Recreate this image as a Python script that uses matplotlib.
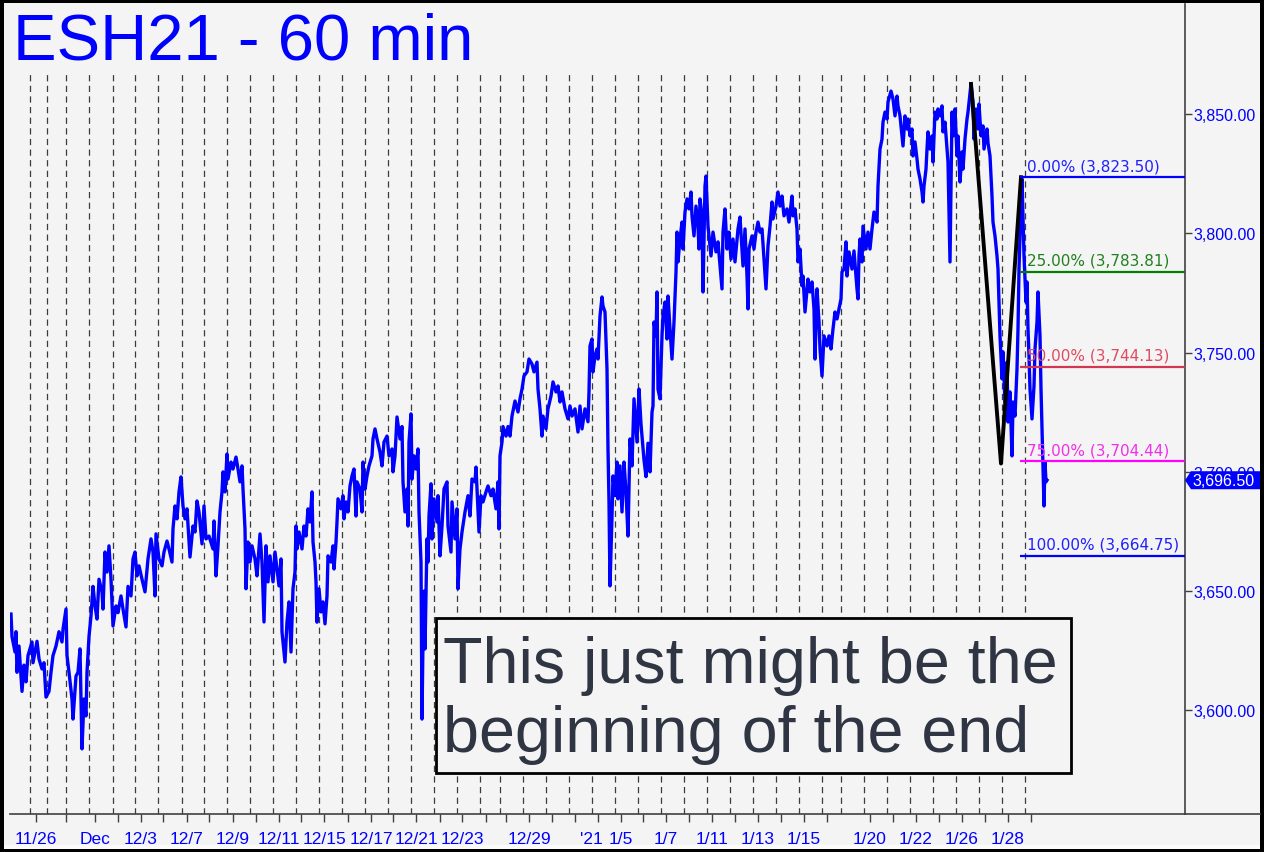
import matplotlib
matplotlib.use('Agg')
import matplotlib.pyplot as plt
from matplotlib.patches import Rectangle, Polygon
from matplotlib.lines import Line2D
from matplotlib.transforms import IdentityTransform, ScaledTranslation

plt.rcParams['font.family'] = ['Liberation Sans', 'DejaVu Sans']

# hourly closes (x = bar position)
xA = [11,12,15,16,17,19,22,24,26,28, 32,33,37,39,42,44,46,49,51,53, 56,59,62,63,66,67,69,72,73,76,
      78,80,82,84,86,87,89,91,93,95, 97,99,102,103,105,107,109,111,113,116, 118,121,123,126,128,131,133,135,137,139,
      142,145,148,151,153,155,156,159,162,164, 167,169,172,173,175,177,179,181,183,185, 187,190,193,195,197,199,202,204,206,209]
pA = [3640.4,3631,3624.5,3633,3616,3627,3608,3619,3612,3623, 3628.7,3620,3629,3621.6,3617.4,3620,3605.6,3608,3616,3623,
      3627,3633,3628.7,3634,3642.5,3623,3616,3604.8,3596.4,3614.4, 3616,3625.8,3583.9,3604.8,3597.7,3616,3631,3639.6,3652,3643.8,
      3638.3,3655,3649.7,3642.5,3666.4,3658,3669,3655,3635.4,3643.8, 3641,3648,3642.5,3635,3652,3648,3663.5,3666.4,3656.4,3660.6,
      3655,3649.7,3663.5,3671.9,3666.4,3648,3674,3663.5,3660.6,3666.4, 3671,3667.7,3662.2,3676.1,3685.7,3680.3,3691.6,3697.9,3685.7,3680.3,
      3684.5,3664.3,3677.3,3674.8,3687.8,3683.2,3669.8,3685.7,3671.9,3673.1]

xB = [213,214,216,218,220,222,223,225,227,228, 231,233,236,238,240,242,243,245,246,248, 250,252,255,257,260,262,264,266,268,270,
      273,275,277,279,281,282,285,287,289,291, 293,295,296,297,299,302,304,306,308,310, 312,313,315,316,317,319,321,323,325,327,
      328,331,333,334,336,337,338,341,343,344, 346,348,350,352,354,356,357,360,362,363, 365,367,369,372,373,375,377,380,382,384,
      387,389,392,393,395,397,400,402,403,405, 407,408,409,411,412,414,416,418,419,421, 422,423]
pB = [3667.7,3679.4,3656.4,3669,3683.2,3691.6,3700,3691.6,3707.5,3697, 3704.1,3701.2,3706.2,3701.2,3695.8,3702.5,3692.8,3676.1,3651,3670.6,
      3662.2,3669,3663.5,3656.4,3674,3662.2,3637.1,3669,3653.9,3664.8, 3653.9,3666.4,3659.3,3652.2,3663.5,3632.9,3620.3,3637.1,3645.5,3624.5,
      3651,3658,3677.3,3667.7,3674.8,3667.7,3677.3,3673.1,3684.5,3679, 3691.6,3670.6,3662.2,3653.9,3637,3651,3641.3,3645.5,3636.3,3648,
      3664.8,3662.2,3669,3659.3,3670.6,3679,3688.7,3684.5,3690,3680.3, 3687.4,3683.2,3694.1,3698.3,3701.2,3681.5,3695.8,3692.8,3683.2,3704.1,
      3692.8,3698.3,3702.5,3706.7,3713.8,3718,3713.8,3708.3,3702.5,3712.5, 3715,3706.7,3709.6,3700,3706.7,3723,3713.8,3719,3695.8,3683.2,
      3692.8,3677.3,3712.5,3724.3,3697,3706.7,3701.2,3709.6,3683.2,3662.2, 3596.4,3630]

xC = [424,425,427,428,429,431,432,434,437,438, 440,442,444,447,448,451,452,455,457,458, 460,462,465,468,470,472,475,476,478,479,
      481,483,486,488,491,493,496,498,499,500, 502,503,506,508,510,512,515,518,520,522, 524,527,529,532,534,537,538,540,542,543,
      546,548,551,553,556,558,560,562,565,568, 570,572,575,578,580,582,585,588,589,590, 592,593,595,597,598,600,602,603,605,607,
      608,609,610,612,613,615,617,618,620,622, 624,626,628,630,632,634,637,639,641,644, 646,648,650,652]
pC = [3650,3625.8,3671.9,3662.2,3681.5,3695,3671.9,3688.7,3679,3690, 3664.8,3677.3,3692.8,3695.8,3677.3,3666.4,3687.4,3671.9,3684.5,3651,
      3667.7,3674.8,3683.2,3690,3681.5,3697,3695.8,3702,3683.2,3674.8, 3690,3687.4,3691.6,3694.1,3690,3692.8,3684.5,3695.8,3676.1,3706.7,
      3712.5,3719,3715,3719,3715,3723.4,3729.7,3725.1,3730.6,3734.7, 3740.2,3741.9,3747.3,3745.2,3741.9,3746,3734.7,3726.4,3715,3723.4,
      3718,3726.4,3731.8,3737.7,3733.5,3736,3729.3,3733.5,3726.4,3722.2, 3727.6,3723.4,3726.4,3716.7,3727.6,3718,3726.4,3721,3733.5,3752.8,
      3755.7,3741.9,3748.6,3751.5,3747.3,3765.3,3773.3,3769.5,3767,3743.1, 3709.6,3687.4,3652.2,3681.5,3698.3,3690,3704.1,3688.7,3702.5,3683.2,
      3704.1,3691.6,3673.1,3713.8,3702.5,3730.6,3712.5,3734.7,3720,3705, 3698,3712,3700,3725]

xD = [653,654,656,657,658,660,662,663,665,667, 668,670,672,674,676,677,678,680,682,683, 685,687,689,691,692,694,696,698,699,700,
      702,703,705,706,708,709,711,713,716,718, 720,722,723,725,727,729,731,733,735,738, 740,742,743,745,747,748,749,752,754,756,
      758,760,762,764,766,768,770,772,773,776, 778,780,782,784,787,789,792,793,795,797, 798,800,802,803,805,808,810,812,814,815,
      817,819,820,822,824,827,829,831,833,835, 837,839,841,842,844]
pD = [3727.6,3762.8,3757,3775.4,3734.7,3730.6,3757,3765.3,3771.2,3755.7, 3773.7,3759.9,3747.3,3762.8,3783.8,3800.5,3788,3797.6,3804.7,3793.4,
      3808.9,3814.4,3810.2,3817.3,3807.3,3798.9,3811.4,3803,3793.4,3814.4, 3807.3,3775.4,3819.8,3824,3803,3798.9,3790.5,3800.5,3792.2,3796.4,
      3786.3,3776.7,3800.5,3810.2,3793.4,3800.5,3789.2,3797.6,3788,3801.8, 3806.8,3793.4,3786.3,3801.8,3782.1,3768.3,3793.4,3798.9,3793.4,3800.5,
      3804.7,3800.5,3801.8,3789.2,3776.7,3794.7,3803,3813.1,3806,3811.4, 3817.3,3811.4,3815.6,3807.3,3810.2,3804.7,3815.6,3807.3,3810.2,3801.8,
      3788,3793.4,3778,3782.1,3767,3780.8,3775.4,3779.6,3768.3,3747.3, 3776.7,3762.8,3751.5,3740.2,3757,3752.8,3757,3751.5,3759.9,3767,
      3764.1,3768.3,3772.5,3783.8,3785]

xE = [846,847,849,852,854,857,858,859,860,862, 863,866,868,870,872,874,877,878,880,882, 883,885,887,888,891,893,895,897,898,900,
      902,903,905,907,908,910,912,913,915,917, 918,920,922,923,924,926,927,928,930,932, 933,935,937,938,940,942,943,945,947,948,
      950,952,953,955,957,958,960,962,963,965, 967,968,971,973,974,976,978,979,981,983, 984,987,988,990,992,993,995,997,998,999,
      1000,1002,1003,1005,1007,1008,1010,1012,1013,1015, 1017,1018,1019,1021,1022,1023,1024,1026,1027,1028,
      1029,1030,1032,1034,1035,1037,1038,1040,1041,1042, 1044,1045,1046,1047]
pE = [3796.4,3782.1,3792.2,3785,3792.6,3776.7,3772.5,3790.5,3797.6,3788, 3803,3793.4,3800.5,3793.4,3801.8,3808.9,3804.7,3819.8,3835.3,3839.5,
      3846.6,3850.8,3847.9,3855,3859.6,3856.3,3849.2,3857.5,3853.4,3849.2, 3840.8,3836.6,3849.2,3843.7,3847.9,3840.8,3843.7,3832.4,3838.3,3831.1,
      3826.9,3822.8,3817.3,3813.1,3819.8,3826.9,3835.3,3842.5,3835.3,3840.8, 3829.9,3850.8,3847.9,3852.1,3849.2,3853.4,3842.5,3846.6,3835.3,3829.9,
      3788,3850.8,3840.8,3852.1,3832.4,3840.8,3821.5,3834.1,3826.9,3839.5, 3847.9,3850.8,3862.6,3855,3839.5,3852.1,3843.7,3854.2,3840.8,3845,
      3835.3,3843.7,3837.9,3832.4,3815.6,3804.7,3798.9,3790.5,3785,3771.2, 3757,3739,3750.3,3729.3,3746,3720.9,3733.5,3706.7,3729.3,3723.4,
      3743.1,3759.9,3785,3813.1,3822.8,3806,3790.5,3771.2,3779.6,3759.9, 3748.6,3734.7,3722.2,3736,3751.5,3762.8,3775.4,3757,3734.7,3718,
      3685.7,3704.1,3695.8,3696.5]

bars = xA + xB + xC + xD + xE
closes = pA + pB + pC + pD + pE

# session separators and date ticks
day_lines = [30,47,66,89,113,135,158,182,204,227,250,273,296,319,342,365,388,411,434,457,480,500,523,
             546,569,592,615,638,661,684,707,730,753,776,799,822,841,864,887,910,933,956,979,1002,1025]
tick_pos = [36,66,95,118,141,163,187,209,233,256,279,301,324,348,371,393,416,440,462,486,506,529,552,
            575,598,621,643,666,689,712,735,758,781,804,827,870,893,916,939,962,985,1008,1031]
tick_names = {36:'11/26', 95:'Dec', 141:'12/3', 187:'12/7', 233:'12/9', 279:'12/11', 324:'12/15',
              371:'12/17', 416:'12/21', 462:'12/23', 529:'12/29', 598:"'21", 621:'1/5', 666:'1/7',
              712:'1/11', 758:'1/13', 804:'1/15', 870:'1/20', 916:'1/22', 962:'1/26', 1008:'1/28'}

price_ticks = [3600, 3650, 3700, 3750, 3800, 3850]

# retracement levels
fib_pct = ['0.00%', '25.00%', '50.00%', '75.00%', '100.00%']
fib_val = [3823.50, 3783.81, 3744.13, 3704.44, 3664.75]
fib_line_col = ['#0000ff', '#008000', '#d23650', '#ff00ff', '#0000ff']
fib_text_col = ['#2020ff', '#208020', '#e04a62', '#f030e8', '#2020ff']
fib_start = 1020

# swing drawn in black
swing_x = [971, 1001, 1021]
swing_y = [3862.6, 3703.5, 3823.5]

last_price = 3696.50

W, H = 1264, 853
fig = plt.figure(figsize=(W / 100, H / 100), dpi=100, facecolor='black')
fig.add_artist(Rectangle((4 / W, 7 / H), 1256 / W, 842 / H, transform=fig.transFigure,
                         fc='#f4f4f4', ec='none', zorder=-5))
fig.add_artist(Rectangle((4 / W, 3 / H), 1256 / W, 4 / H, transform=fig.transFigure,
                         fc='#fbfbfb', ec='none', zorder=-5))

ax = fig.add_axes([10 / W, (H - 815) / H, 1175 / W, 810 / H])
ax.set_facecolor('none')
ymin, ymax = 3556.6, 3896.1
ax.set_xlim(10, 1185)
ax.set_ylim(ymin, ymax)

ax.vlines(day_lines, ymin, 3868, colors='#3c3c3c', linestyles=(0, (5, 3.5)), lw=0.9, zorder=1)
ax.plot(bars, closes, color='#0000ff', lw=2.4, zorder=3)
ax.plot(swing_x, swing_y, color='black', lw=2.8, zorder=4)

for name, v, lc, tc in zip(fib_pct, fib_val, fib_line_col, fib_text_col):
    ax.hlines(v, fib_start, 1185, color=lc, lw=1.6, zorder=4)
    ax.annotate(f'{name} ({v:,.2f})', xy=(fib_start + 7, v), xytext=(0, 3),
                textcoords='offset points', va='bottom', ha='left', color=tc,
                fontsize=11, family='DejaVu Sans', zorder=5)

# comment box
ax.add_patch(Rectangle((436, 3573.8), 635, 65.0, fc='#f4f4f4', ec='black', lw=2, zorder=6))
ax.text(443, 3611.9, 'This just might be the', fontsize=46.5, color='#2f3542', va='baseline', zorder=7)
ax.text(443, 3583.0, 'beginning of the end', fontsize=46.5, color='#2f3542', va='baseline', zorder=7)

ax.set_xticks(tick_pos)
ax.set_xticklabels([tick_names.get(t, '') for t in tick_pos])
ax.tick_params(axis='x', direction='out', length=6, width=1, color='#404040',
               labelcolor='#0000ff', labelsize=12.5, pad=6)
# the '21 label sits a little left of its tick
for t, lbl in zip(tick_pos, ax.get_xticklabels()):
    if tick_names.get(t) == "'21":
        lbl.set_transform(lbl.get_transform() + ScaledTranslation(-5 / 72, 0, fig.dpi_scale_trans))
ax.yaxis.tick_right()
ax.set_yticks(price_ticks)
ax.set_yticklabels([f'{p:,.2f}' for p in price_ticks])
ax.tick_params(axis='y', direction='out', length=5, width=1, color='#404040',
               labelcolor='#0000ff', labelsize=11.5, pad=1)
for s in ['left', 'top']:
    ax.spines[s].set_visible(False)
for s in ['right', 'bottom']:
    ax.spines[s].set_color('#404040')
    ax.spines[s].set_linewidth(1.2)
fig.add_artist(Line2D([1185 / W, 1260 / W], [(H - 815) / H] * 2, color='#404040', lw=1.2))

fig.text(13 / W, (H - 60) / H, 'ESH21 - 60 min', fontsize=47, color='#0000ff', va='baseline')

# last price flag on the price axis
xd, yd = ax.transData.transform((1185, last_price))
flag = Polygon([(xd, yd), (xd + 6, yd + 9), (xd + 75, yd + 9), (xd + 75, yd - 9), (xd + 6, yd - 9)],
               closed=True, transform=IdentityTransform(), fc='#0000ff', ec='none', zorder=10)
fig.add_artist(flag)
fig.text(xd + 7, yd, f'{last_price:,.2f}', transform=IdentityTransform(), color='white',
         fontsize=11.5, va='center', ha='left', zorder=11)

fig.savefig('out.png', dpi=100, facecolor='black')
